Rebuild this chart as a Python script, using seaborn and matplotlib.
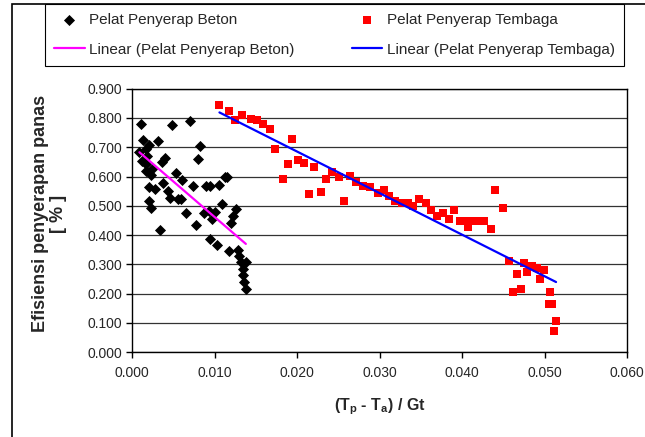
import pandas as pd
import seaborn as sns
import matplotlib.pyplot as plt
from matplotlib.patches import Rectangle
from matplotlib.ticker import FormatStrFormatter, MultipleLocator

# data
beton_x = [0.0011, 0.0049, 0.0070, 0.0013, 0.0031, 0.0020, 0.0082, 0.0009, 0.0017, 0.0018,
           0.0012, 0.0017, 0.0040, 0.0036, 0.0080, 0.0024, 0.0017, 0.0023, 0.0053, 0.0061,
           0.0038, 0.0020, 0.0028, 0.0044, 0.0074, 0.0090, 0.0095, 0.0105, 0.0113, 0.0115,
           0.0046, 0.0056, 0.0059, 0.0020, 0.0023, 0.0109, 0.0126, 0.0123, 0.0120, 0.0066,
           0.0087, 0.0093, 0.0101, 0.0097, 0.0077, 0.0034, 0.0094, 0.0103, 0.0118, 0.0128,
           0.0130, 0.0132, 0.0138, 0.0134, 0.0135, 0.0136, 0.0138]
beton_y = [0.780, 0.775, 0.791, 0.726, 0.720, 0.707, 0.705, 0.683, 0.694, 0.669,
           0.654, 0.644, 0.665, 0.650, 0.660, 0.626, 0.618, 0.606, 0.612, 0.589,
           0.578, 0.564, 0.557, 0.551, 0.566, 0.569, 0.569, 0.572, 0.600, 0.600,
           0.527, 0.523, 0.523, 0.518, 0.492, 0.507, 0.489, 0.464, 0.441, 0.475,
           0.475, 0.483, 0.479, 0.455, 0.433, 0.416, 0.387, 0.367, 0.346, 0.350,
           0.330, 0.308, 0.308, 0.284, 0.262, 0.239, 0.215]

tembaga_x = [0.0106, 0.0117, 0.0125, 0.0133, 0.0144, 0.0152, 0.0159, 0.0167, 0.0173, 0.0194,
             0.0201, 0.0208, 0.0189, 0.0220, 0.0183, 0.0215, 0.0229, 0.0235, 0.0243, 0.0251,
             0.0257, 0.0264, 0.0272, 0.0280, 0.0289, 0.0298, 0.0305, 0.0312, 0.0319, 0.0327,
             0.0334, 0.0340, 0.0348, 0.0356, 0.0363, 0.0370, 0.0377, 0.0384, 0.0390, 0.0398,
             0.0405, 0.0407, 0.0414, 0.0420, 0.0427, 0.0435, 0.0440, 0.0450, 0.0457, 0.0467,
             0.0462, 0.0471, 0.0475, 0.0479, 0.0485, 0.0491, 0.0494, 0.0499, 0.0507, 0.0506,
             0.0509, 0.0514, 0.0511]
tembaga_y = [0.843, 0.825, 0.792, 0.809, 0.797, 0.792, 0.781, 0.763, 0.695, 0.728,
             0.658, 0.646, 0.643, 0.634, 0.592, 0.540, 0.548, 0.592, 0.614, 0.600,
             0.517, 0.603, 0.583, 0.569, 0.563, 0.544, 0.553, 0.535, 0.515, 0.509,
             0.509, 0.501, 0.524, 0.509, 0.484, 0.464, 0.477, 0.456, 0.485, 0.447,
             0.447, 0.429, 0.447, 0.447, 0.447, 0.421, 0.553, 0.492, 0.313, 0.266,
             0.204, 0.217, 0.303, 0.274, 0.295, 0.287, 0.251, 0.280, 0.207, 0.165,
             0.165, 0.107, 0.072]

beton = pd.DataFrame({"x": beton_x, "y": beton_y})
tembaga = pd.DataFrame({"x": tembaga_x, "y": tembaga_y})

sns.set_style("white")
plt.rcParams['font.family'] = ['Liberation Sans', 'DejaVu Sans']
plt.rcParams['mathtext.fontset'] = 'custom'
plt.rcParams['mathtext.rm'] = 'Liberation Sans'
plt.rcParams['mathtext.bf'] = 'Liberation Sans:bold'

fig = plt.figure(figsize=(6.45, 4.37), dpi=100)
ax = fig.add_axes([132 / 645, 1 - 352.2 / 437, (627 - 132) / 645, (352.2 - 88.7) / 437])

sns.scatterplot(data=beton, x="x", y="y", ax=ax, marker="D", s=32, color="black",
                edgecolor="black", linewidth=0, label="Pelat Penyerap Beton", zorder=3)
sns.scatterplot(data=tembaga, x="x", y="y", ax=ax, marker="s", s=38, color="red",
                edgecolor="red", linewidth=0, label="Pelat Penyerap Tembaga", zorder=3)
sns.regplot(data=beton, x="x", y="y", ax=ax, scatter=False, ci=None, truncate=True,
            color="#FF00FF", line_kws={"lw": 1.6, "zorder": 4},
            label="Linear (Pelat Penyerap Beton)")
sns.regplot(data=tembaga, x="x", y="y", ax=ax, scatter=False, ci=None, truncate=True,
            color="#0000FF", line_kws={"lw": 1.6, "zorder": 4},
            label="Linear (Pelat Penyerap Tembaga)")

ax.set_xlim(0, 0.06)
ax.set_ylim(0, 0.9)
ax.xaxis.set_major_locator(MultipleLocator(0.01))
ax.yaxis.set_major_locator(MultipleLocator(0.1))
ax.xaxis.set_major_formatter(FormatStrFormatter('%.3f'))
ax.yaxis.set_major_formatter(FormatStrFormatter('%.3f'))
ax.tick_params(axis='both', direction='out', length=4, width=1, color='black',
               labelsize=10, bottom=True, left=True)
ax.tick_params(axis='x', pad=6)
ax.tick_params(axis='y', pad=3)
ax.yaxis.grid(True, color='0.2', lw=0.9)
ax.set_axisbelow(True)
for sp in ax.spines.values():
    sp.set_color('black')
    sp.set_linewidth(1)

ax.set_xlabel(r'(T$_\mathbf{p}$ - T$_\mathbf{a}$) / Gt', fontsize=11.5, fontweight='bold', labelpad=12)
ax.set_ylabel('Efisiensi penyerapan panas\n[ % ]', fontsize=13, fontweight='bold',
              linespacing=1.1)
ax.yaxis.set_label_coords((67 - 132) / 495, 0.525)

h, l = ax.get_legend_handles_labels()
ax.get_legend().remove()
d = dict(zip(l, h))
order = ["Pelat Penyerap Beton", "Linear (Pelat Penyerap Beton)",
         "Pelat Penyerap Tembaga", "Linear (Pelat Penyerap Tembaga)"]
leg = fig.legend([d[k] for k in order], order, ncol=2, loc='upper left',
                 bbox_to_anchor=(45 / 645, 1 - 8 / 437, (624 - 45) / 645, 0.01),
                 mode='expand', fontsize=11, frameon=True, fancybox=False,
                 edgecolor='black', framealpha=1, labelspacing=1.05, borderpad=0.6,
                 handlelength=2.0, handletextpad=0.3, borderaxespad=0, columnspacing=1)
leg.get_frame().set_linewidth(0.8)

# outer chart frame
fig.patches.append(Rectangle((12 / 645, -0.1), 1.2, 1.1 - 4 / 437, transform=fig.transFigure,
                             fill=False, ec='black', lw=1.2))

fig.savefig("out.png", dpi=100)
